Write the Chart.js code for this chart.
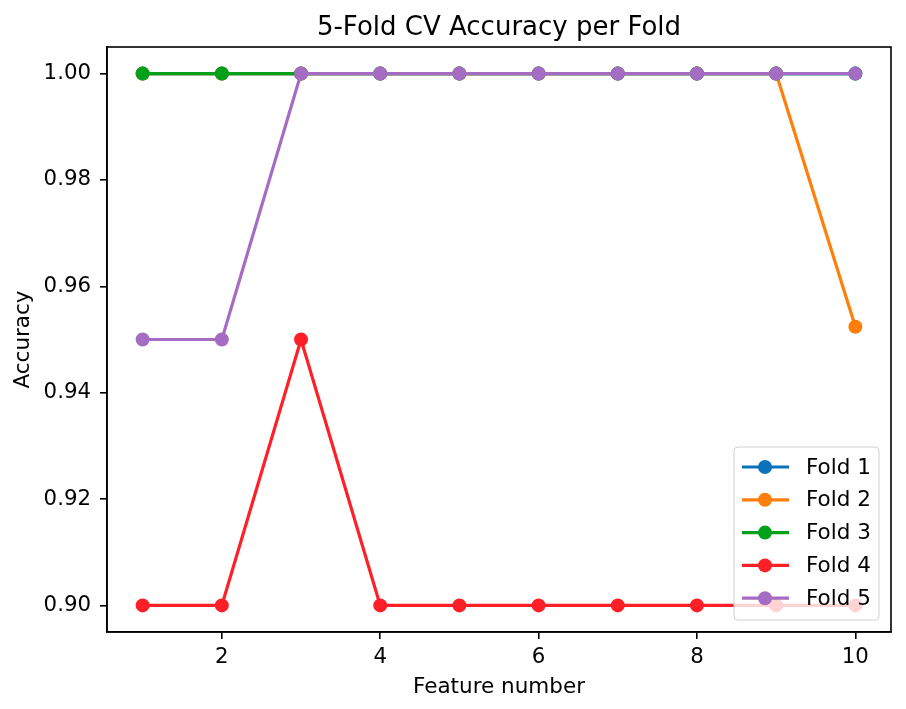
<!DOCTYPE html>
<html>
<head>
<meta charset="utf-8">
<script src="https://cdn.jsdelivr.net/npm/chart.js@4"></script>
<style>
  body { margin: 0; background: #fff; }
  canvas { display: block; }
</style>
</head>
<body>
<canvas id="cvChart" width="906" height="709"></canvas>
<script>
// values
const featureNumbers = [1, 2, 3, 4, 5, 6, 7, 8, 9, 10];
const fold1 = [1.0, 1.0, 1.0, 1.0, 1.0, 1.0, 1.0, 1.0, 1.0, 1.0];
const fold2 = [1.0, 1.0, 1.0, 1.0, 1.0, 1.0, 1.0, 1.0, 1.0, 0.9524];
const fold3 = [1.0, 1.0, 1.0, 1.0, 1.0, 1.0, 1.0, 1.0, 1.0, 1.0];
const fold4 = [0.9, 0.9, 0.95, 0.9, 0.9, 0.9, 0.9, 0.9, 0.9, 0.9];
const fold5 = [0.95, 0.95, 1.0, 1.0, 1.0, 1.0, 1.0, 1.0, 1.0, 1.0];
const foldLabels = ["Fold 1", "Fold 2", "Fold 3", "Fold 4", "Fold 5"];
const foldColors = ["#0a72ba", "#ff7f0a", "#00a01a", "#ff1f26", "#a46cc2"];
const xTicks = [2, 4, 6, 8, 10];
const yTicks = [0.90, 0.92, 0.94, 0.96, 0.98, 1.00];

const FONT = "'DejaVu Sans', sans-serif";
const folds = [fold1, fold2, fold3, fold4, fold5];

const datasets = folds.map((vals, i) => ({
    label: foldLabels[i],
    data: vals.map((v, j) => ({ x: featureNumbers[j], y: v })),
    borderColor: foldColors[i],
    backgroundColor: foldColors[i],
    borderWidth: 3.2,
    pointRadius: 6,
    pointBorderWidth: 2,
    pointBorderColor: foldColors[i],
    pointBackgroundColor: foldColors[i],
    tension: 0,
    order: folds.length - i, // later folds on top, like matplotlib
}));

// box around the axes + legend drawn inside the plot
const framePlugin = {
    id: "frame",
    afterDatasetsDraw(chart) {
        const { ctx, chartArea: a } = chart;
        ctx.save();

        // legend (lower right, semi transparent like matplotlib)
        const w = 145, h = 173;
        const lx = a.right - 12 - w, ly = a.bottom - 12 - h;
        ctx.beginPath();
        ctx.roundRect(lx, ly, w, h, 4);
        ctx.fillStyle = "rgba(255,255,255,0.8)";
        ctx.fill();
        ctx.strokeStyle = "#d0d0d0";
        ctx.lineWidth = 1;
        ctx.stroke();

        ctx.font = "21.5px " + FONT;
        ctx.textBaseline = "middle";
        ctx.textAlign = "left";
        foldLabels.forEach((lab, i) => {
            const cy = ly + 20 + i * 32.8;
            ctx.strokeStyle = foldColors[i];
            ctx.lineWidth = 3.2;
            ctx.beginPath();
            ctx.moveTo(lx + 8, cy);
            ctx.lineTo(lx + 55, cy);
            ctx.stroke();
            ctx.fillStyle = foldColors[i];
            ctx.beginPath();
            ctx.arc(lx + 31, cy, 7, 0, Math.PI * 2);
            ctx.fill();
            ctx.fillStyle = "#000";
            ctx.fillText(lab, lx + 72, cy + 1);
        });

        ctx.strokeStyle = "#000";
        ctx.lineWidth = 1.6;
        ctx.strokeRect(a.left, a.top, a.right - a.left, a.bottom - a.top);
        ctx.restore();
    },
};

new Chart(document.getElementById("cvChart"), {
    type: "line",
    data: { datasets: datasets },
    options: {
        responsive: false,
        animation: false,
        layout: { padding: { left: 0, right: 15, top: 0, bottom: 0 } },
        plugins: {
            legend: { display: false },
            tooltip: { enabled: false },
            title: {
                display: true,
                fullSize: false,
                text: "5-Fold CV Accuracy per Fold",
                color: "#000",
                font: { family: FONT, size: 26, weight: "normal" },
                padding: { top: 13, bottom: 2.8 },
            },
        },
        scales: {
            x: {
                type: "linear",
                min: 0.55,
                max: 10.45,
                afterBuildTicks: (s) => { s.ticks = xTicks.map((v) => ({ value: v })); },
                afterFit: (s) => { s.height = 77; },
                grid: { drawOnChartArea: false, drawTicks: true, tickLength: 7, color: "#000", lineWidth: 1.6 },
                border: { display: true, color: "#000", width: 1.6 },
                ticks: { color: "#000", font: { family: FONT, size: 21.3 }, padding: 6, maxRotation: 0 },
                title: {
                    display: true,
                    text: "Feature number",
                    color: "#000",
                    font: { family: FONT, size: 21.5 },
                    padding: { top: 0, bottom: 9 },
                },
            },
            y: {
                type: "linear",
                min: 0.895,
                max: 1.005,
                afterBuildTicks: (s) => { s.ticks = yTicks.map((v) => ({ value: v })); },
                afterFit: (s) => { s.width = 107; },
                grid: { drawOnChartArea: false, drawTicks: true, tickLength: 7, color: "#000", lineWidth: 1.6 },
                border: { display: true, color: "#000", width: 1.6 },
                ticks: {
                    color: "#000",
                    font: { family: FONT, size: 21.3 },
                    padding: 9,
                    callback: (v) => v.toFixed(2),
                },
                title: {
                    display: true,
                    text: "Accuracy",
                    color: "#000",
                    font: { family: FONT, size: 21.5 },
                    padding: { top: 11, bottom: 0 },
                },
            },
        },
    },
    plugins: [framePlugin],
});
</script>
</body>
</html>
